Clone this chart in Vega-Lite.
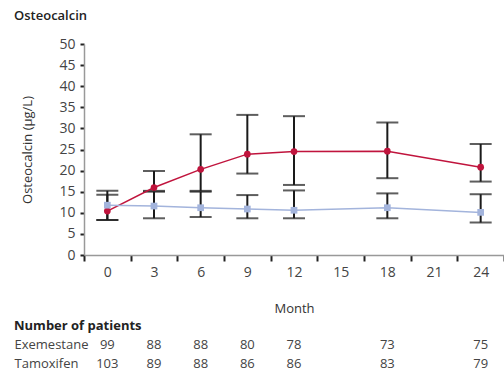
{
  "$schema": "https://vega.github.io/schema/vega-lite/v6.json",
  "padding": {"left": 14, "top": 10, "right": 0, "bottom": 0},
  "background": "white",
  "config": {
    "view": {"stroke": null},
    "font": "Open Sans",
    "axis": {"grid": false}
  },
  "datasets": {
    "series": [
      {"month": 0, "group": "Exemestane", "value": 10.4, "low": 8.3, "high": 14.3},
      {"month": 3, "group": "Exemestane", "value": 16.0, "low": 15.2, "high": 19.9},
      {"month": 6, "group": "Exemestane", "value": 20.3, "low": 15.2, "high": 28.6},
      {"month": 9, "group": "Exemestane", "value": 23.9, "low": 19.3, "high": 33.2},
      {"month": 12, "group": "Exemestane", "value": 24.5, "low": 16.6, "high": 32.9},
      {"month": 18, "group": "Exemestane", "value": 24.6, "low": 18.2, "high": 31.4},
      {"month": 24, "group": "Exemestane", "value": 20.8, "low": 17.4, "high": 26.3},
      {"month": 0, "group": "Tamoxifen", "value": 11.8, "low": 8.3, "high": 15.2},
      {"month": 3, "group": "Tamoxifen", "value": 11.6, "low": 8.7, "high": 15.0},
      {"month": 6, "group": "Tamoxifen", "value": 11.2, "low": 9.0, "high": 15.0},
      {"month": 9, "group": "Tamoxifen", "value": 10.9, "low": 8.7, "high": 14.2},
      {"month": 12, "group": "Tamoxifen", "value": 10.6, "low": 8.7, "high": 15.3},
      {"month": 18, "group": "Tamoxifen", "value": 11.2, "low": 8.7, "high": 14.6},
      {"month": 24, "group": "Tamoxifen", "value": 10.1, "low": 7.7, "high": 14.4}
    ],
    "patients": [
      {"month": 0, "group": "Exemestane", "n": 99},
      {"month": 3, "group": "Exemestane", "n": 88},
      {"month": 6, "group": "Exemestane", "n": 88},
      {"month": 9, "group": "Exemestane", "n": 80},
      {"month": 12, "group": "Exemestane", "n": 78},
      {"month": 18, "group": "Exemestane", "n": 73},
      {"month": 24, "group": "Exemestane", "n": 75},
      {"month": 0, "group": "Tamoxifen", "n": 103},
      {"month": 3, "group": "Tamoxifen", "n": 89},
      {"month": 6, "group": "Tamoxifen", "n": 88},
      {"month": 9, "group": "Tamoxifen", "n": 86},
      {"month": 12, "group": "Tamoxifen", "n": 86},
      {"month": 18, "group": "Tamoxifen", "n": 83},
      {"month": 24, "group": "Tamoxifen", "n": 79}
    ]
  },
  "vconcat": [
    {
      "width": 420,
      "height": 211,
      "title": {"text": "Osteocalcin", "anchor": "start", "frame": "group", "dx": -70, "fontSize": 13, "fontWeight": 600, "color": "#222", "offset": 14},
      "data": {"name": "series"},
      "encoding": {
        "x": {
          "field": "month", "type": "ordinal",
          "scale": {"domain": [0, 3, 6, 9, 12, 15, 18, 21, 24], "paddingInner": 0, "paddingOuter": 0},
          "axis": {"title": "Month", "titleFontSize": 13, "titleFontWeight": "normal", "titleColor": "#333", "titlePadding": 23,
                   "labelAngle": 0, "labelFontSize": 14, "labelColor": "#444", "labelPadding": 4,
                   "tickBand": "extent", "tickSize": 6, "tickWidth": 2, "tickColor": "#222", "domainColor": "#999", "domainWidth": 1.5}
        }
      },
      "layer": [
        {
          "mark": {"type": "errorbar", "thickness": 2, "color": "#1a1a1a", "ticks": {"size": 22, "thickness": 2, "color": "#1a1a1a"}},
          "encoding": {
            "y": {"field": "low", "type": "quantitative", "scale": {"domain": [0, 50]},
                  "axis": {"title": "Osteocalcin (µg/L)", "values": [0, 5, 10, 15, 20, 25, 30, 35, 40, 45, 50], "tickSize": 4, "tickWidth": 2, "tickColor": "#222", "domainColor": "#999", "domainWidth": 1.5, "labelFontSize": 14, "labelColor": "#444", "labelPadding": 5, "titleFontSize": 13, "titleFontWeight": "normal", "titleColor": "#333", "titlePadding": 24}},
            "y2": {"field": "high"},
            "detail": {"field": "group"}
          }
        },
        {
          "mark": {"type": "line", "strokeWidth": 1.5},
          "encoding": {
            "y": {"field": "value", "type": "quantitative",
                  "axis": {"title": "Osteocalcin (µg/L)", "values": [0, 5, 10, 15, 20, 25, 30, 35, 40, 45, 50], "tickSize": 4, "tickWidth": 2, "tickColor": "#222", "domainColor": "#999", "domainWidth": 1.5, "labelFontSize": 14, "labelColor": "#444", "labelPadding": 5, "titleFontSize": 13, "titleFontWeight": "normal", "titleColor": "#333", "titlePadding": 24}},
            "color": {"field": "group", "type": "nominal", "scale": {"domain": ["Exemestane", "Tamoxifen"], "range": ["#c0143d", "#a3b4dc"]}, "legend": null}
          }
        },
        {
          "mark": {"type": "point", "filled": true, "opacity": 1, "size": 45},
          "encoding": {
            "y": {"field": "value", "type": "quantitative",
                  "axis": {"title": "Osteocalcin (µg/L)", "values": [0, 5, 10, 15, 20, 25, 30, 35, 40, 45, 50], "tickSize": 4, "tickWidth": 2, "tickColor": "#222", "domainColor": "#999", "domainWidth": 1.5, "labelFontSize": 14, "labelColor": "#444", "labelPadding": 5, "titleFontSize": 13, "titleFontWeight": "normal", "titleColor": "#333", "titlePadding": 24}},
            "color": {"field": "group", "type": "nominal", "legend": null},
            "shape": {"field": "group", "type": "nominal", "scale": {"domain": ["Exemestane", "Tamoxifen"], "range": ["circle", "square"]}, "legend": null}
          }
        }
      ]
    },
    {
      "width": 420,
      "height": 38,
      "title": {"text": "Number of patients", "anchor": "start", "frame": "group", "dx": -70, "fontSize": 13, "fontWeight": "bold", "color": "#222", "offset": 2},
      "data": {"name": "patients"},
      "mark": {"type": "text", "fontSize": 13, "color": "#444"},
      "encoding": {
        "x": {"field": "month", "type": "ordinal", "scale": {"domain": [0, 3, 6, 9, 12, 15, 18, 21, 24], "paddingInner": 0, "paddingOuter": 0}, "axis": null},
        "y": {"field": "group", "type": "nominal", "scale": {"domain": ["Exemestane", "Tamoxifen"], "paddingInner": 0, "paddingOuter": 0},
              "axis": {"title": null, "domain": false, "ticks": false, "tickSize": 0, "labelAlign": "left", "labelPadding": 70, "labelFontSize": 13, "labelColor": "#444"}},
        "text": {"field": "n", "type": "quantitative"}
      }
    }
  ],
  "spacing": 80,
  "bounds": "flush"
}
